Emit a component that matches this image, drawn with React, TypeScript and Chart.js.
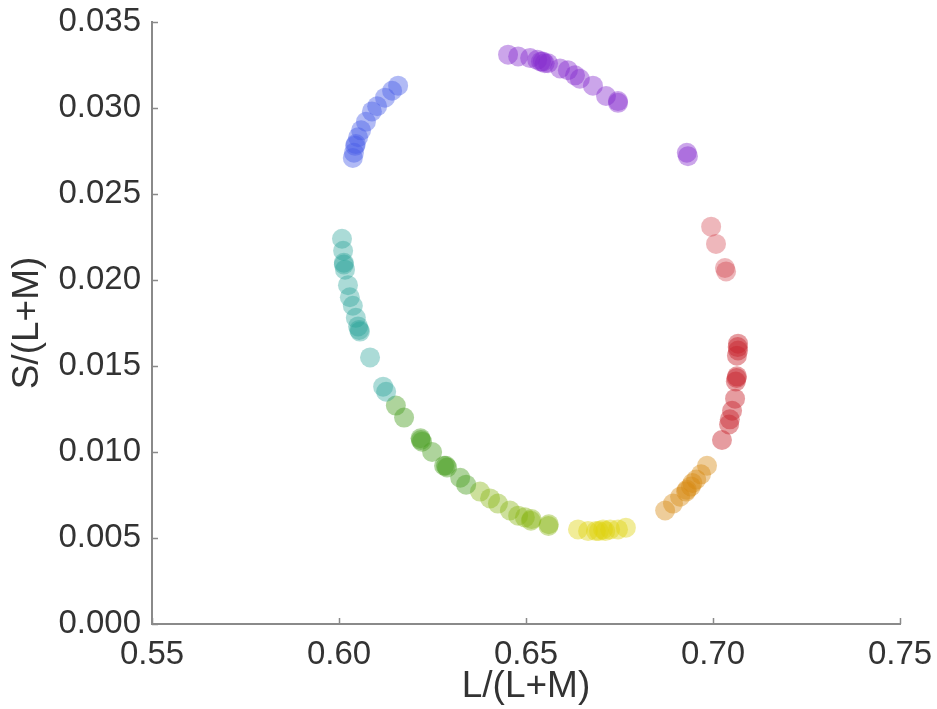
import React, { useEffect, useRef } from "react";
import { Chart, registerables } from "chart.js";
Chart.register(...registerables);

const X_LABEL = "L/(L+M)";
const Y_LABEL = "S/(L+M)";
const X_MIN = 0.55, X_MAX = 0.75, X_STEP = 0.05;
const Y_MIN = 0, Y_MAX = 0.035, Y_STEP = 0.005;

const purplePts = [
  [0.6452, 0.0331], [0.6479, 0.0330], [0.6511, 0.0329], [0.6530, 0.0328], [0.6540, 0.0327],
  [0.6545, 0.0327], [0.6550, 0.0326], [0.6559, 0.0326], [0.6591, 0.0323], [0.6612, 0.0322],
  [0.6631, 0.0319], [0.6644, 0.0317], [0.6679, 0.0313], [0.6714, 0.0307], [0.6746, 0.0303],
  [0.6746, 0.0304], [0.6930, 0.0274], [0.6933, 0.0272],
];
const bluePts = [
  [0.6158, 0.0313], [0.6142, 0.0310], [0.6123, 0.0306], [0.6102, 0.0301], [0.6088, 0.0298],
  [0.6072, 0.0292], [0.6059, 0.0287], [0.6051, 0.0283], [0.6045, 0.0279], [0.6043, 0.0278],
  [0.6040, 0.0274], [0.6037, 0.0271],
];
const tealPts = [
  [0.6008, 0.0224], [0.6011, 0.0217], [0.6013, 0.0210], [0.6016, 0.0206], [0.6013, 0.0209],
  [0.6024, 0.0197], [0.6029, 0.0190], [0.6037, 0.0185], [0.6045, 0.0178], [0.6051, 0.0173],
  [0.6056, 0.0170], [0.6054, 0.0171], [0.6083, 0.0155], [0.6118, 0.0138], [0.6126, 0.0135],
];
const greenPts = [
  [0.6152, 0.0127], [0.6174, 0.0120], [0.6219, 0.0107], [0.6222, 0.0106], [0.6218, 0.0108],
  [0.6249, 0.0100], [0.6281, 0.0092], [0.6289, 0.0091], [0.6286, 0.0092], [0.6324, 0.0085],
  [0.6340, 0.0081],
];
const olivePts = [
  [0.6377, 0.0077], [0.6404, 0.0073], [0.6425, 0.0070], [0.6457, 0.0066], [0.6479, 0.0063],
  [0.6497, 0.0062], [0.6513, 0.0060], [0.6515, 0.0061], [0.6561, 0.0058], [0.6560, 0.0057],
];
const yellowPts = [
  [0.6639, 0.0055], [0.6666, 0.0054], [0.6687, 0.0054], [0.6695, 0.0054], [0.6706, 0.0055],
  [0.6712, 0.0054], [0.6725, 0.0055], [0.6746, 0.0055], [0.6767, 0.0056],
];
const orangePts = [
  [0.6872, 0.0066], [0.6893, 0.0070], [0.6912, 0.0074], [0.6928, 0.0077], [0.6930, 0.0078],
  [0.6941, 0.0080], [0.6945, 0.0082], [0.6955, 0.0084], [0.6968, 0.0087], [0.6984, 0.0092],
];
const pinkPts = [
  [0.6995, 0.0231], [0.7008, 0.0221], [0.7032, 0.0207], [0.7035, 0.0205],
];
const redPts = [
  [0.7067, 0.0163], [0.7067, 0.0159], [0.7064, 0.0156], [0.7066, 0.0161], [0.7064, 0.0144],
  [0.7061, 0.0141], [0.7063, 0.0143], [0.7059, 0.0131], [0.7051, 0.0124], [0.7045, 0.0119],
  [0.7043, 0.0116], [0.7024, 0.0107],
];

const groupNames = ["purple", "blue", "teal", "green", "olive", "yellow", "orange", "pink", "red"];
const groupPts = [purplePts, bluePts, tealPts, greenPts, olivePts, yellowPts, orangePts, pinkPts, redPts];
const groupColors = [
  "rgba(130, 40, 205, 0.42)",
  "rgba(70, 90, 232, 0.42)",
  "rgba(35, 160, 150, 0.38)",
  "rgba(75, 160, 35, 0.45)",
  "rgba(135, 180, 20, 0.42)",
  "rgba(222, 210, 10, 0.42)",
  "rgba(215, 135, 15, 0.42)",
  "rgba(205, 50, 60, 0.35)",
  "rgba(200, 35, 45, 0.45)",
];

const AXIS_COLOR = "#8a8a8a";
const TEXT_COLOR = "#333333";
const FONT = "'Liberation Sans', Arial, Helvetica, sans-serif";

const inwardTicks = {
  id: "inwardTicks",
  afterDatasetsDraw(chart: any) {
    const { ctx, chartArea, scales } = chart;
    ctx.save();
    ctx.strokeStyle = AXIS_COLOR;
    ctx.lineWidth = 1.5;
    scales.x.ticks.forEach((t: any) => {
      const px = Math.round(scales.x.getPixelForValue(t.value)) + 0.5;
      ctx.beginPath();
      ctx.moveTo(px, chartArea.bottom);
      ctx.lineTo(px, chartArea.bottom - 6);
      ctx.stroke();
    });
    scales.y.ticks.forEach((t: any) => {
      const py = Math.round(scales.y.getPixelForValue(t.value)) + 0.5;
      ctx.beginPath();
      ctx.moveTo(chartArea.left, py);
      ctx.lineTo(chartArea.left + 6, py);
      ctx.stroke();
    });
    ctx.restore();
  },
};

export default function App() {
  const ref = useRef<HTMLCanvasElement>(null);
  useEffect(() => {
    if (!ref.current) return;
    const chart = new Chart(ref.current, {
      type: "scatter",
      data: {
        datasets: groupPts.map((pts, i) => ({
          label: groupNames[i],
          data: pts.map(([x, y]) => ({ x, y })),
          backgroundColor: groupColors[i],
          borderWidth: 0,
          pointRadius: 10,
          pointHoverRadius: 10,
        })),
      },
      options: {
        responsive: false,
        animation: false,
        events: [],
        layout: { padding: { top: 22, right: 37, left: 0, bottom: 0 } },
        plugins: { legend: { display: false }, tooltip: { enabled: false } },
        scales: {
          x: {
            type: "linear",
            min: X_MIN,
            max: X_MAX,
            afterFit: (s: any) => { s.height = 85; s.paddingLeft = 0; s.paddingRight = 0; },
            border: { display: true, color: AXIS_COLOR, width: 2 },
            grid: { display: true, drawOnChartArea: false, drawTicks: false, color: "rgba(0,0,0,0)" },
            ticks: {
              stepSize: X_STEP,
              padding: 11,
              color: TEXT_COLOR,
              font: { family: FONT, size: 33 },
              maxRotation: 0,
              callback: (v: any) => Number(v).toFixed(2),
            },
            title: {
              display: true,
              text: X_LABEL,
              color: TEXT_COLOR,
              font: { family: FONT, size: 37 },
              padding: { top: 0, bottom: 0 },
            },
          },
          y: {
            type: "linear",
            min: Y_MIN,
            max: Y_MAX,
            afterFit: (s: any) => { s.width = 152; s.paddingTop = 0; s.paddingBottom = 0; },
            border: { display: true, color: AXIS_COLOR, width: 2 },
            grid: { display: true, drawOnChartArea: false, drawTicks: false, color: "rgba(0,0,0,0)" },
            ticks: {
              stepSize: Y_STEP,
              padding: 11,
              color: TEXT_COLOR,
              font: { family: FONT, size: 33 },
              callback: (v: any) => Number(v).toFixed(3),
            },
            title: {
              display: true,
              text: Y_LABEL,
              color: TEXT_COLOR,
              font: { family: FONT, size: 37 },
              padding: { top: 6, bottom: 0 },
            },
          },
        },
      },
      plugins: [inwardTicks],
    });
    return () => chart.destroy();
  }, []);
  return (
    <div style={{ position: "absolute", left: 0, top: 0, width: 937, height: 709, background: "#fff" }}>
      <canvas ref={ref} width={937} height={709} style={{ display: "block" }} />
    </div>
  );
}
